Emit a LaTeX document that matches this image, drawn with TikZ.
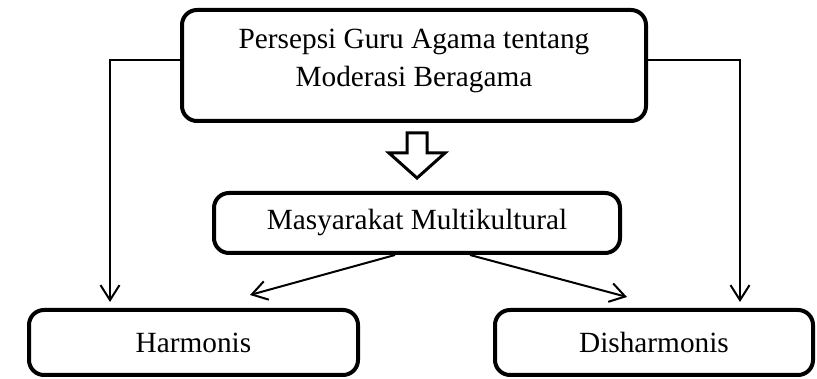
\documentclass[tikz,border=0pt]{standalone}
\usepackage{fontspec}
\setmainfont{Liberation Serif}
\usetikzlibrary{arrows.meta}
\begin{document}
\begin{tikzpicture}[x=1pt,y=1pt,
  box/.style={draw, line width=4pt, rounded corners=15pt, align=center,
    font=\fontsize{29.3}{38}\selectfont, inner sep=0pt},
  conn/.style={draw, line width=2pt, -{Straight Barb[length=15pt,width=19pt,line width=2pt]}},
  hollow/.style={draw, line width=3pt, line join=miter, fill=white}]
\useasboundingbox (0,0) rectangle (817,379);
\node[box, minimum width=464pt, minimum height=111pt] (top) at (414,313.5) {};
\node[align=center, font=\fontsize{29.3}{38}\selectfont, inner sep=0pt] (toptext) at (414,318)
  {Persepsi Guru Agama tentang\\Moderasi Beragama};
\node[box, minimum width=406pt, minimum height=60pt] (mid) at (417,156)
  {Masyarakat Multikultural};
\node[box, minimum width=329pt, minimum height=65pt] (harm) at (193.5,36.5)
  {Harmonis};
\node[box, minimum width=318pt, minimum height=65pt] (dis) at (654,36.5)
  {Disharmonis};
\coordinate (lt) at (110,77);
\coordinate (rt) at (740,77);
\coordinate (ml) at (250,84);
\coordinate (mr) at (627,82);
\draw[conn] ([yshift=5.5pt]top.west) -| (lt);
\draw[conn] ([yshift=5.5pt]top.east) -| (rt);
\draw[conn] ([xshift=-22pt]mid.south) -- (ml);
\draw[conn] ([xshift=53pt]mid.south) -- (mr);
\draw[hollow] (407,246) -- (427,246) -- (427,226) -- (445,226) -- (417,201)
  -- (389,226) -- (407,226) -- cycle;
\end{tikzpicture}
\end{document}
